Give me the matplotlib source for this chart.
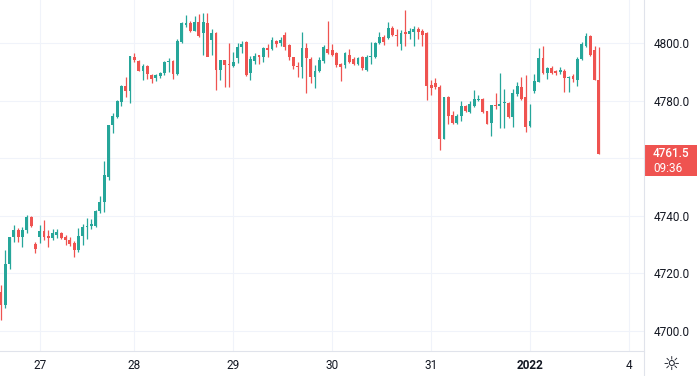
"""Hourly candlestick chart in a TradingView-like style."""

import numpy as np
import matplotlib
matplotlib.use("Agg")
import matplotlib.pyplot as plt
from matplotlib.lines import Line2D
from matplotlib.patches import Rectangle

# ---- data ----
opens = [
    4713.5, 4709, 4723.25, 4732.5, 4735, 4732.5, 4735, 4739.5, 4730.25, 4732.5,
    4734.75, 4733, 4732.25, 4733.5, 4734, 4732.5, 4731.5, 4730.5, 4728, 4733,
    4736, 4736.5, 4736.5, 4741.75, 4744.75, 4753.5, 4771.5, 4774.25, 4779.5, 4785,
    4783.25, 4795.25, 4793.75, 4790.25, 4792, 4789, 4787.75, 4788.5, 4789.75, 4793.5,
    4793.75, 4789.25, 4800.5, 4806.25, 4807, 4804.25, 4807.25, 4803.5, 4807, 4801,
    4803.5, 4790.5, 4794, 4792.75, 4792, 4794.75, 4798.5, 4800.25, 4789.5, 4793.75,
    4795.75, 4795, 4798.25, 4797.75, 4800.75, 4800, 4802.75, 4799.25, 4795, 4791.75,
    4791.75, 4798.25, 4794.5, 4788.25, 4790.25, 4793.75, 4798, 4797.5, 4796.5, 4792.75,
    4792.5, 4795.75, 4794.5, 4792.75, 4795, 4790.5, 4795, 4795.25, 4800, 4802,
    4801.75, 4805.25, 4802.75, 4799.5, 4803.75, 4803.25, 4803.75, 4805, 4804.25, 4803.5,
    4785.25, 4786.25, 4784.75, 4766.75, 4781.25, 4775, 4772.25, 4774.75, 4778, 4776,
    4778, 4780.25, 4780.5, 4776.25, 4772.25, 4778.5, 4778.25, 4779, 4779.25, 4774.25,
    4782.25, 4784.75, 4781.25, 4771.25, 4783.25, 4786.5, 4794.75, 4789.5, 4791.25, 4790.25,
    4790, 4790.25, 4788, 4788.5, 4787.25, 4794.5, 4799, 4802.5, 4797.5, 4787.25,
]
highs = [
    4716, 4728, 4732.75, 4736.75, 4735.75, 4736.25, 4740.25, 4740, 4731, 4736.75,
    4738.5, 4735, 4735.5, 4735.25, 4734.5, 4733.5, 4732.75, 4731.25, 4735.75, 4737.25,
    4739.25, 4739, 4742, 4746.75, 4759, 4771.5, 4775.75, 4780.25, 4785.25, 4788.25,
    4795.5, 4796.5, 4794.25, 4792.75, 4792.25, 4789.25, 4789.25, 4790, 4793.75, 4794.75,
    4794, 4801.5, 4807.25, 4809.75, 4807.75, 4809.5, 4810, 4810.5, 4810.25, 4805,
    4803.75, 4794.25, 4794.25, 4800, 4797, 4800, 4800.75, 4800.75, 4795.5, 4796.5,
    4796, 4798.5, 4799.75, 4802, 4801, 4802, 4803.75, 4799.5, 4795.25, 4793.5,
    4803.75, 4800, 4795, 4792.25, 4795, 4799.25, 4807.5, 4799.75, 4797, 4793,
    4797, 4797.75, 4795, 4795.25, 4795.5, 4795.75, 4800.25, 4800.5, 4803.75, 4802.75,
    4807.25, 4805.75, 4805, 4804.5, 4811.5, 4805.25, 4806, 4805.5, 4805, 4803.75,
    4787.25, 4787.75, 4785.5, 4781.25, 4781.5, 4776.25, 4775.25, 4780, 4778.5, 4780,
    4783.75, 4782, 4781, 4776.5, 4778.5, 4782.5, 4789.75, 4784, 4779.5, 4784,
    4786.5, 4788.25, 4788.75, 4778.75, 4789.25, 4798.25, 4799, 4791.75, 4792, 4790.75,
    4791.75, 4791, 4788.5, 4789.25, 4795, 4800.25, 4803.5, 4802.75, 4799, 4798.5,
]
lows = [
    4703.75, 4708, 4721.5, 4731, 4731, 4729.25, 4734, 4736, 4727, 4730.5,
    4731.5, 4729, 4731.5, 4732.25, 4732, 4730, 4729.5, 4725.75, 4727.5, 4730,
    4732, 4735.5, 4736, 4741, 4741.25, 4752.5, 4768.75, 4774, 4778.25, 4781.25,
    4779, 4793.5, 4790.25, 4787.25, 4787.5, 4786, 4786.75, 4788, 4789, 4790,
    4787.5, 4789, 4800, 4805.5, 4803.75, 4804, 4802, 4795.75, 4795.5, 4795.75,
    4783.75, 4787.25, 4784.75, 4784.75, 4791.5, 4793, 4796.5, 4788.5, 4787, 4792.75,
    4792.75, 4793.5, 4795, 4797.5, 4798.75, 4799, 4797.5, 4794, 4791, 4788.25,
    4787.75, 4782.5, 4786, 4784.5, 4790, 4793, 4796.25, 4795.5, 4791.75, 4786.75,
    4791.25, 4793, 4792.5, 4792.5, 4790.75, 4790.25, 4792.75, 4794.75, 4799.75, 4799.25,
    4801.25, 4802.5, 4799, 4797.5, 4799, 4801.25, 4799, 4801.5, 4799, 4780.25,
    4782, 4784, 4762.75, 4766.5, 4772, 4771.75, 4771.75, 4773, 4776, 4775.75,
    4777.75, 4780, 4775.75, 4771.75, 4767.75, 4777, 4770.5, 4770.5, 4774, 4770.75,
    4781.5, 4780.25, 4769, 4771, 4782.5, 4786.5, 4789.25, 4787.5, 4789.25, 4788.75,
    4789.25, 4783, 4783, 4786.5, 4785, 4794, 4798.5, 4795.5, 4787, 4761.5,
]
closes = [
    4709, 4723.25, 4732.5, 4735, 4732.5, 4735, 4739.5, 4736.5, 4728.5, 4734.75,
    4732.5, 4732.25, 4734, 4734.25, 4732.25, 4731.5, 4730.25, 4728, 4733, 4736,
    4736.5, 4737, 4741.75, 4744.75, 4754.25, 4771.5, 4774.75, 4779.75, 4785, 4783.25,
    4795.5, 4794, 4790.25, 4792, 4789.25, 4787.5, 4789, 4789.75, 4793.5, 4793.75,
    4789.25, 4800.75, 4807, 4807, 4804.25, 4807.25, 4802.5, 4807.25, 4795, 4803.5,
    4790.5, 4794, 4792.5, 4792.25, 4793.5, 4798.5, 4799.75, 4789, 4794.5, 4795.5,
    4795, 4798.25, 4797.5, 4801, 4799.75, 4801, 4798.5, 4795, 4792, 4791.5,
    4798.25, 4794.75, 4788.25, 4790.25, 4794, 4798.5, 4796.5, 4795.75, 4792.5, 4791.75,
    4796.5, 4793.5, 4792.75, 4794.75, 4791.25, 4795, 4795.5, 4800, 4802, 4800.25,
    4805.25, 4802.75, 4802.5, 4803.5, 4803.25, 4804.25, 4805, 4803.75, 4802.75, 4785,
    4784.25, 4784.75, 4766.75, 4781.25, 4774.75, 4772.25, 4774.75, 4778, 4776.5, 4778.75,
    4780.5, 4780.5, 4776, 4772, 4778.5, 4778.25, 4778.75, 4779.25, 4774.25, 4782.5,
    4785, 4780.5, 4770.75, 4773, 4786.75, 4794.75, 4789.5, 4791.25, 4789.5, 4789.75,
    4790.5, 4787.75, 4788.25, 4787.5, 4794.5, 4799.75, 4802.5, 4795.75, 4787.25, 4761.5,
]

day_pos = [9, 31, 54, 77, 100, 123, 146]
day_labels = ["27", "28", "29", "30", "31", "2022", "4"]
price_ticks = [4700, 4720, 4740, 4760, 4780, 4800]
last_price = closes[-1]
countdown = "09:36"

UP = "#26a69a"
DOWN = "#ef5350"
GRID = "#f0f3fa"
BORDER = "#e0e3eb"
TEXT = "#131722"

plt.rcParams["font.family"] = ["Roboto", "DejaVu Sans"]

o = np.array(opens)
h = np.array(highs)
l = np.array(lows)
c = np.array(closes)
x = np.arange(len(o))
colors = np.where(c >= o, UP, DOWN)

fig = plt.figure(figsize=(6.97, 3.76), dpi=100)
ax = fig.add_axes([0, 25 / 376, 644 / 697, 351 / 376])

# wicks then bodies
ax.vlines(x, l, h, colors=colors, linewidth=0.9, zorder=2)
bottoms = np.minimum(o, c)
heights = np.maximum(np.abs(c - o), 0.35)
ax.bar(x, heights, bottom=bottoms, width=0.66, color=colors,
       linewidth=0, zorder=3)

ax.set_xlim(-0.23, 149.5)
ax.set_ylim(4693.06, 4814.93)

ax.set_xticks(day_pos)
ax.set_xticklabels(day_labels)
for lab in ax.get_xticklabels():
    if lab.get_text() == "2022":
        lab.set_fontweight("bold")
ax.set_yticks(price_ticks)
ax.set_yticklabels([f"{v:.1f}" if v != 4760 else "" for v in price_ticks])

ax.yaxis.tick_right()
ax.tick_params(axis="y", length=0, pad=7, labelsize=8.5, labelcolor=TEXT)
ax.tick_params(axis="x", length=0, pad=6, labelsize=8.5, labelcolor=TEXT)
for lab in ax.get_yticklabels():
    lab.set_horizontalalignment("left")

ax.grid(True, color=GRID, linewidth=0.8, zorder=0)
ax.set_axisbelow(True)
for side in ["top", "left", "right"]:
    ax.spines[side].set_visible(False)
ax.spines["bottom"].set_color(BORDER)
ax.spines["bottom"].set_linewidth(0.8)

# right price-scale border running the full height
fig.add_artist(Line2D([644 / 697, 644 / 697], [0, 1], color=BORDER,
                      linewidth=0.8, transform=fig.transFigure))

# last-price label
box_top, box_bot = 145, 176
fig.add_artist(Rectangle((644.5 / 697, 1 - box_bot / 376), 52.5 / 697,
                         (box_bot - box_top) / 376, facecolor=DOWN,
                         edgecolor="none", transform=fig.transFigure))
fig.text(653 / 697, 1 - 153.5 / 376, f"{last_price:.1f}", color="white",
         fontsize=8.5, ha="left", va="center", fontweight="medium")
fig.text(653 / 697, 1 - 168 / 376, countdown, color="white",
         fontsize=8.5, ha="left", va="center")

# settings icon in the bottom right corner
fig.text(671 / 697, 1 - 364 / 376, "\u263c", color=TEXT, fontsize=14,
         ha="center", va="center", family="DejaVu Sans")

fig.savefig("out.png", dpi=100)
